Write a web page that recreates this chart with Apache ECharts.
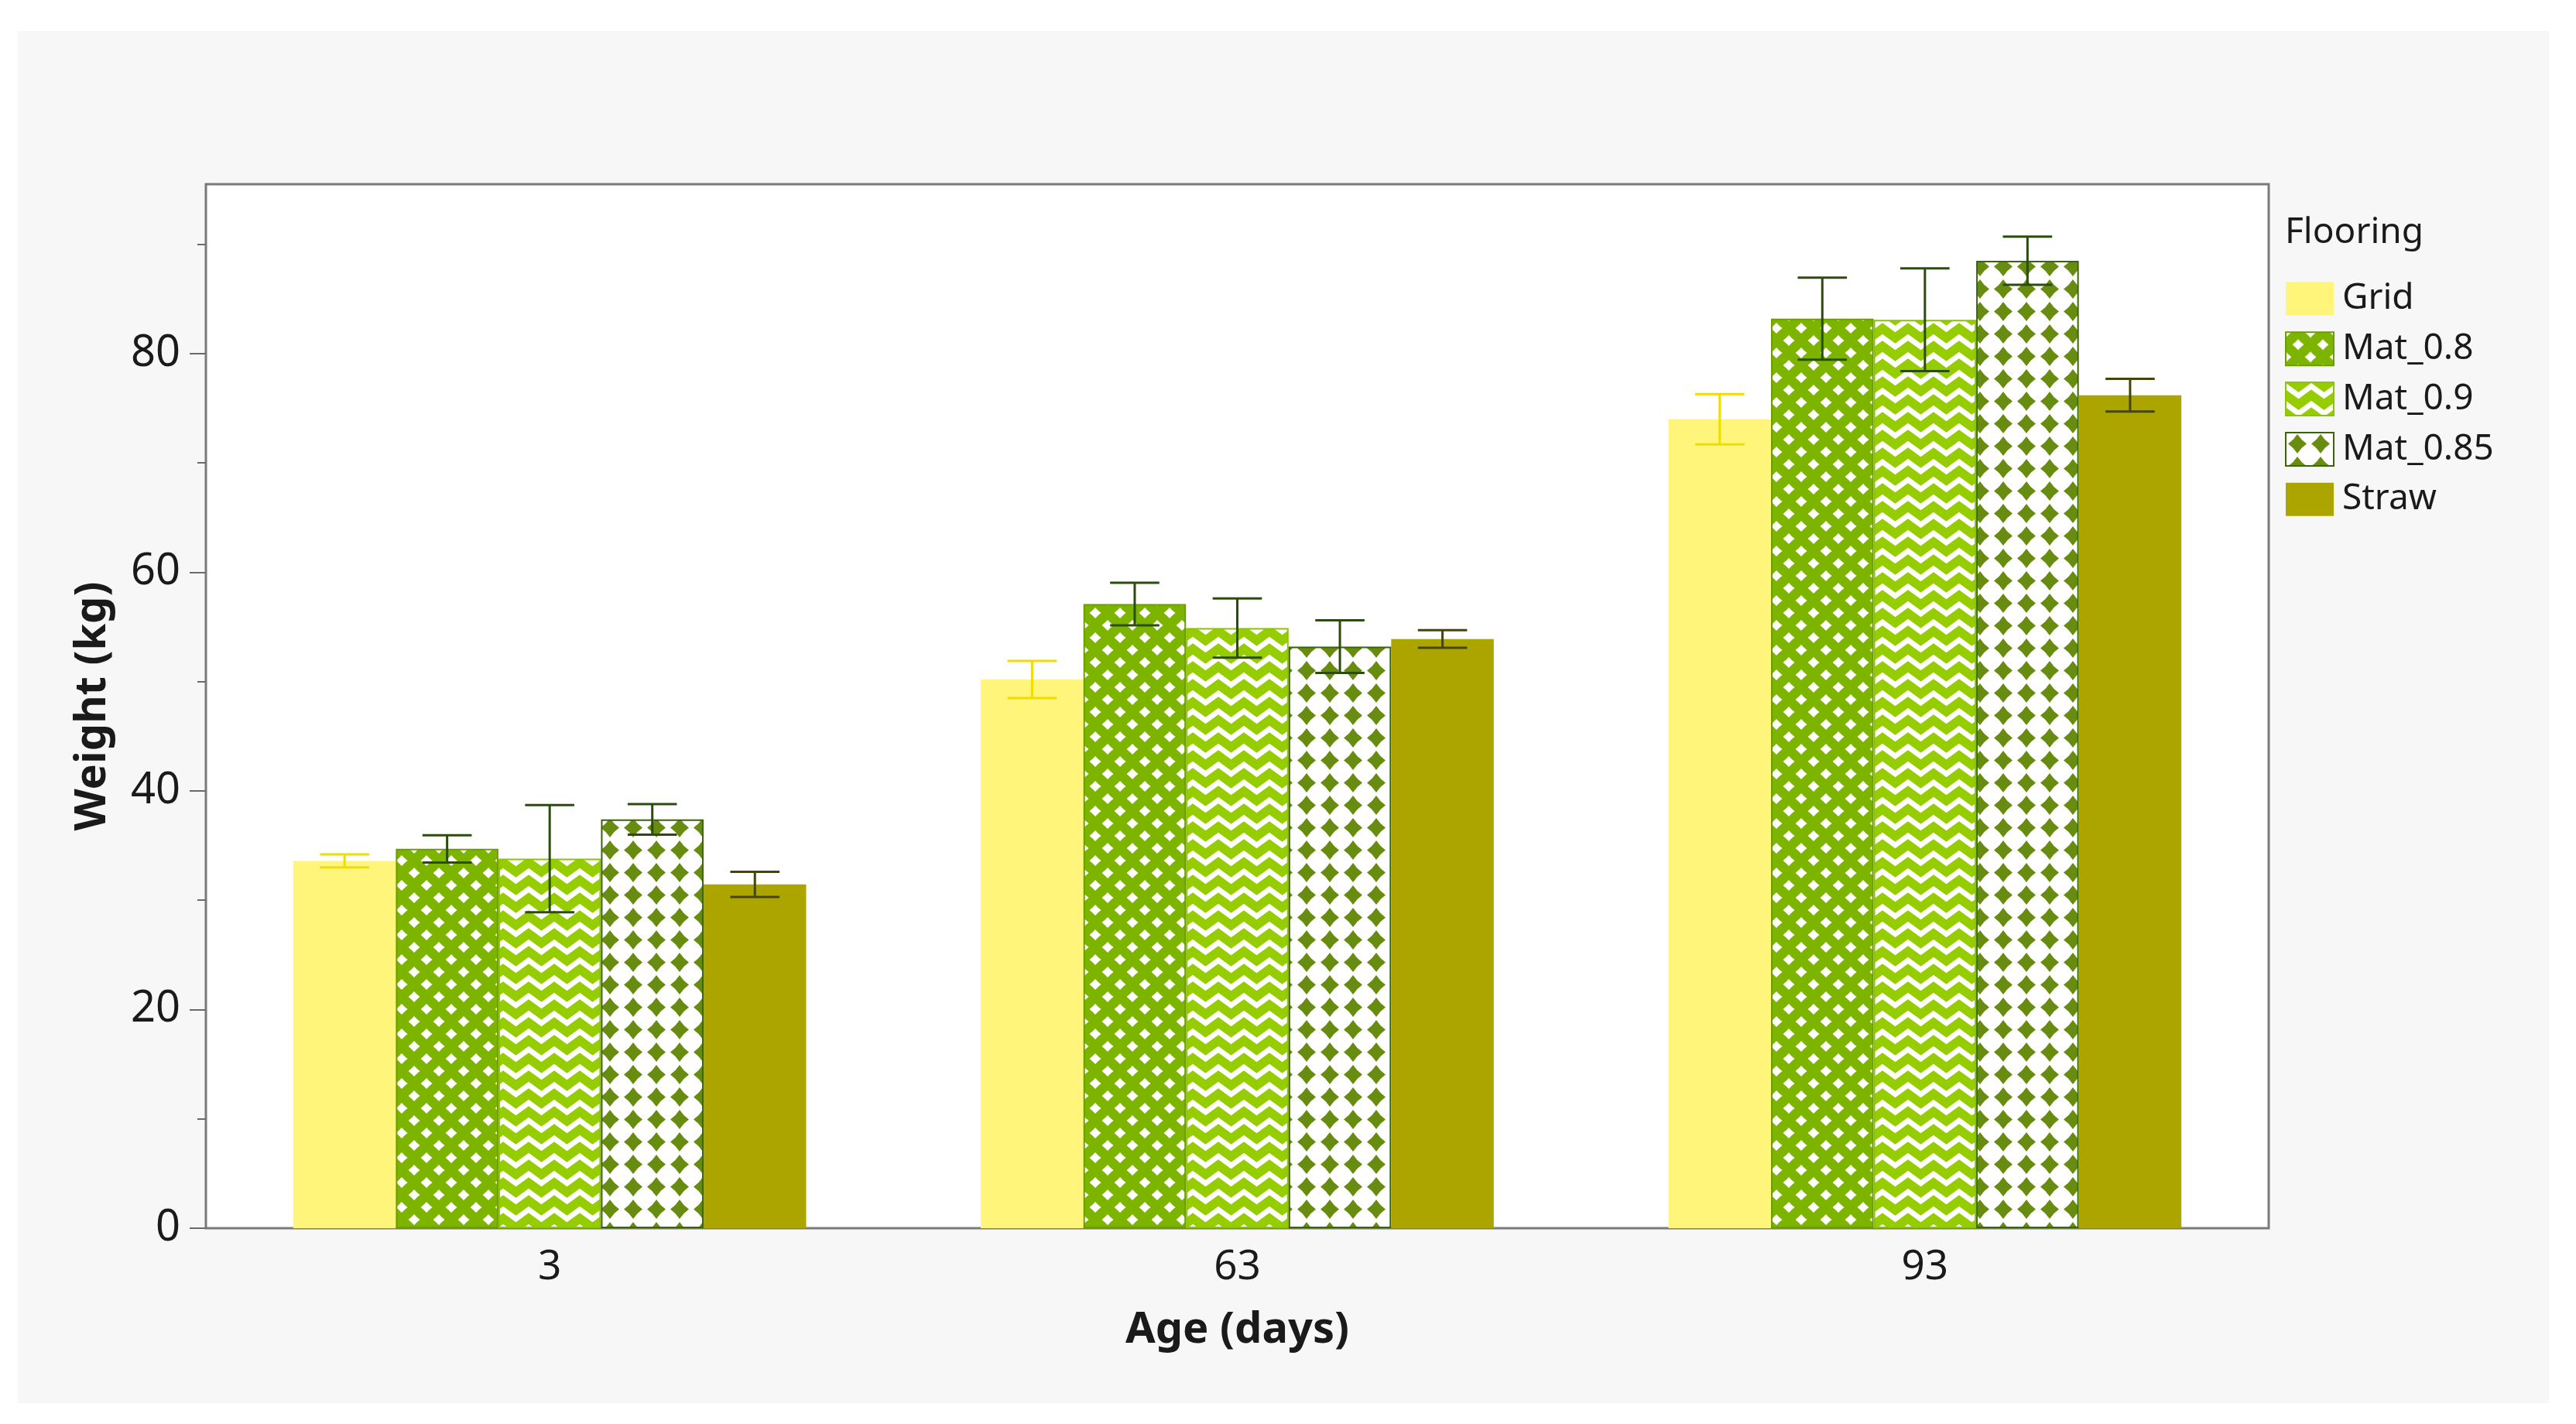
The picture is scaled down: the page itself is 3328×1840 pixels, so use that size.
<!DOCTYPE html>
<html>
<head>
<meta charset="utf-8">
<script src="https://cdn.jsdelivr.net/npm/echarts@6/dist/echarts.min.js"></script>
<style>
  html, body { margin: 0; padding: 0; background: #ffffff; width: 3328px; height: 1840px; overflow: hidden; }
  #chart { position: absolute; left: 23px; top: 40px; width: 3270px; height: 1773px; }
</style>
</head>
<body>
<div id="chart"></div>
<script>
// ---------------- DATA ----------------
const categories = ['3', '63', '93'];
const seriesNames = ['Grid', 'Mat_0.8', 'Mat_0.9', 'Mat_0.85', 'Straw'];
const gridMean   = [33.6, 50.2, 74.0];
const gridErr    = [0.6, 1.7, 2.3];
const mat08Mean  = [34.7, 57.1, 83.2];
const mat08Err   = [1.25, 1.95, 3.75];
const mat09Mean  = [33.8, 54.9, 83.1];
const mat09Err   = [4.9, 2.7, 4.7];
const mat085Mean = [37.4, 53.2, 88.5];
const mat085Err  = [1.4, 2.4, 2.2];
const strawMean  = [31.45, 53.9, 76.2];
const strawErr   = [1.15, 0.8, 1.5];
const yMajorTicks = [0, 20, 40, 60, 80];
const yMinorTicks = [10, 30, 50, 70, 90];
const yMax = 95.5;
const legendTitle = 'Flooring';
const xTitle = 'Age (days)';
const yTitle = 'Weight (kg)';

// ---------------- PATTERNS ----------------
function makeCanvas(w, h) {
  const c = document.createElement('canvas');
  c.width = w; c.height = h;
  return c;
}
function diamond(ctx, cx, cy, rx, ry, concave) {
  const k = concave || 0;
  ctx.beginPath();
  ctx.moveTo(cx, cy - ry);
  ctx.quadraticCurveTo(cx + rx * k, cy - ry * k, cx + rx, cy);
  ctx.quadraticCurveTo(cx + rx * k, cy + ry * k, cx, cy + ry);
  ctx.quadraticCurveTo(cx - rx * k, cy + ry * k, cx - rx, cy);
  ctx.quadraticCurveTo(cx - rx * k, cy - ry * k, cx, cy - ry);
  ctx.closePath();
  ctx.fill();
}
// Mat_0.8 : green lattice with white diamond holes (staggered)
function patMat08() {
  const w = 32, h = 32;
  const c = makeCanvas(w, h), ctx = c.getContext('2d');
  ctx.fillStyle = '#7db400';
  ctx.fillRect(0, 0, w, h);
  ctx.fillStyle = '#ffffff';
  const pts = [[16, 16], [0, 0], [32, 0], [0, 32], [32, 32]];
  pts.forEach(p => diamond(ctx, p[0], p[1], 7.5, 7, 0.45));
  return c;
}
// Mat_0.9 : zigzag white stripes on light green
function patMat09() {
  const w = 33, h = 23;
  const c = makeCanvas(w, h), ctx = c.getContext('2d');
  ctx.fillStyle = '#96cd00';
  ctx.fillRect(0, 0, w, h);
  ctx.strokeStyle = '#ffffff';
  ctx.lineWidth = 7;
  ctx.lineJoin = 'miter';
  for (let off = -h; off <= h; off += h) {
    ctx.beginPath();
    ctx.moveTo(-16.5, 17 + off);
    ctx.lineTo(0, 5 + off);
    ctx.lineTo(16.5, 17 + off);
    ctx.lineTo(33, 5 + off);
    ctx.lineTo(49.5, 17 + off);
    ctx.stroke();
  }
  return c;
}
// Mat_0.85 : dark green diamonds on white
function patMat085() {
  const w = 30, h = 29;
  const c = makeCanvas(w, h), ctx = c.getContext('2d');
  ctx.fillStyle = '#ffffff';
  ctx.fillRect(0, 0, w, h);
  ctx.fillStyle = '#688c10';
  diamond(ctx, 15, 14.5, 12, 12.5, 0.4);
  return c;
}

const seriesStyles = [
  { color: '#fff57a', borderColor: '#fff57a', borderWidth: 0, err: '#f0dc00' },
  { color: { image: patMat08(), repeat: 'repeat' }, borderColor: '#6c9c00', borderWidth: 2, err: '#2a4c0c' },
  { color: { image: patMat09(), repeat: 'repeat' }, borderColor: '#8cc400', borderWidth: 2, err: '#2a4c0c' },
  { color: { image: patMat085(), repeat: 'repeat' }, borderColor: '#3a640a', borderWidth: 2, err: '#2a4c0c' },
  { color: '#aca500', borderColor: '#aca500', borderWidth: 0, err: '#45450a' }
];
const means = [gridMean, mat08Mean, mat09Mean, mat085Mean, strawMean];
const errs  = [gridErr, mat08Err, mat09Err, mat085Err, strawErr];

const CAT_GAP = 0.254;
const FONT = '"Noto Sans", "Open Sans", sans-serif';

const series = [];
seriesNames.forEach((name, idx) => {
  series.push({
    type: 'bar',
    name: name,
    data: means[idx],
    barGap: '0%',
    barCategoryGap: (CAT_GAP * 100) + '%',
    itemStyle: {
      color: seriesStyles[idx].color,
      borderColor: seriesStyles[idx].borderColor,
      borderWidth: seriesStyles[idx].borderWidth
    },
    emphasis: { disabled: true },
    z: 2
  });
});
seriesNames.forEach((name, idx) => {
  const errColor = seriesStyles[idx].err;
  series.push({
    type: 'custom',
    name: name + ' error',
    z: 10,
    silent: true,
    encode: { x: 0, y: [1, 2] },
    data: categories.map((c, i) => [i, means[idx][i] - errs[idx][i], means[idx][i] + errs[idx][i]]),
    renderItem: function (params, api) {
      const ci = api.value(0);
      const lo = api.value(1), hi = api.value(2);
      const band = api.size([1, 0])[0];
      const groupW = band * (1 - CAT_GAP);
      const bw = groupW / seriesNames.length;
      const pLo = api.coord([ci, lo]);
      const pHi = api.coord([ci, hi]);
      const x = pLo[0] - groupW / 2 + bw * (idx + 0.5);
      const cap = bw * 0.24;
      const st = { stroke: errColor, lineWidth: 3 };
      return {
        type: 'group',
        children: [
          { type: 'line', shape: { x1: x, y1: pLo[1], x2: x, y2: pHi[1] }, style: st },
          { type: 'line', shape: { x1: x - cap, y1: pHi[1], x2: x + cap, y2: pHi[1] }, style: st },
          { type: 'line', shape: { x1: x - cap, y1: pLo[1], x2: x + cap, y2: pLo[1] }, style: st }
        ]
      };
    }
  });
});

const chart = echarts.init(document.getElementById('chart'), null, { renderer: 'canvas' });
chart.setOption({
  backgroundColor: '#f7f7f7',
  animation: false,
  textStyle: { fontFamily: FONT },
  title: {
    text: legendTitle,
    left: 2929,
    top: 238,
    padding: 0,
    textStyle: { fontFamily: FONT, fontSize: 46, fontWeight: 'normal', color: '#1a1a1a' }
  },
  legend: {
    data: seriesNames,
    orient: 'vertical',
    left: 2929,
    top: 323,
    padding: 0,
    itemWidth: 62,
    itemHeight: 43,
    itemGap: 18.8,
    icon: 'rect',
    selectedMode: false,
    textStyle: { fontFamily: FONT, fontSize: 46, color: '#1a1a1a', padding: [0, 0, 0, 6] }
  },
  grid: {
    left: 243, right: 362, top: 198, bottom: 226,
    show: true,
    backgroundColor: '#ffffff',
    borderColor: '#7a7a7a',
    borderWidth: 3
  },
  xAxis: {
    type: 'category',
    data: categories,
    axisLine: { show: false },
    axisTick: { show: false },
    axisLabel: { fontFamily: FONT, fontSize: 53, color: '#1a1a1a', margin: 24 },
    name: xTitle,
    nameLocation: 'middle',
    nameGap: 104,
    nameTextStyle: { fontFamily: FONT, fontSize: 56, fontWeight: 'bold', color: '#1a1a1a' }
  },
  yAxis: [
    {
      type: 'value',
      min: 0,
      max: yMax,
      position: 'left',
      splitLine: { show: false },
      axisLine: { show: false },
      axisTick: { show: true, customValues: yMajorTicks, length: 21, lineStyle: { color: '#6a6a6a', width: 2 } },
      axisLabel: { customValues: yMajorTicks, fontFamily: FONT, fontSize: 56, color: '#1a1a1a', margin: 33 },
      name: yTitle,
      nameLocation: 'middle',
      nameGap: 118,
      nameRotate: 90,
      nameTextStyle: { fontFamily: FONT, fontSize: 56, fontWeight: 'bold', color: '#1a1a1a' }
    },
    {
      type: 'value',
      min: 0,
      max: yMax,
      position: 'left',
      splitLine: { show: false },
      axisLine: { show: false },
      axisTick: { show: true, customValues: yMinorTicks, length: 11, lineStyle: { color: '#6a6a6a', width: 2 } },
      axisLabel: { show: false }
    }
  ],
  series: series
});
</script>
</body>
</html>
